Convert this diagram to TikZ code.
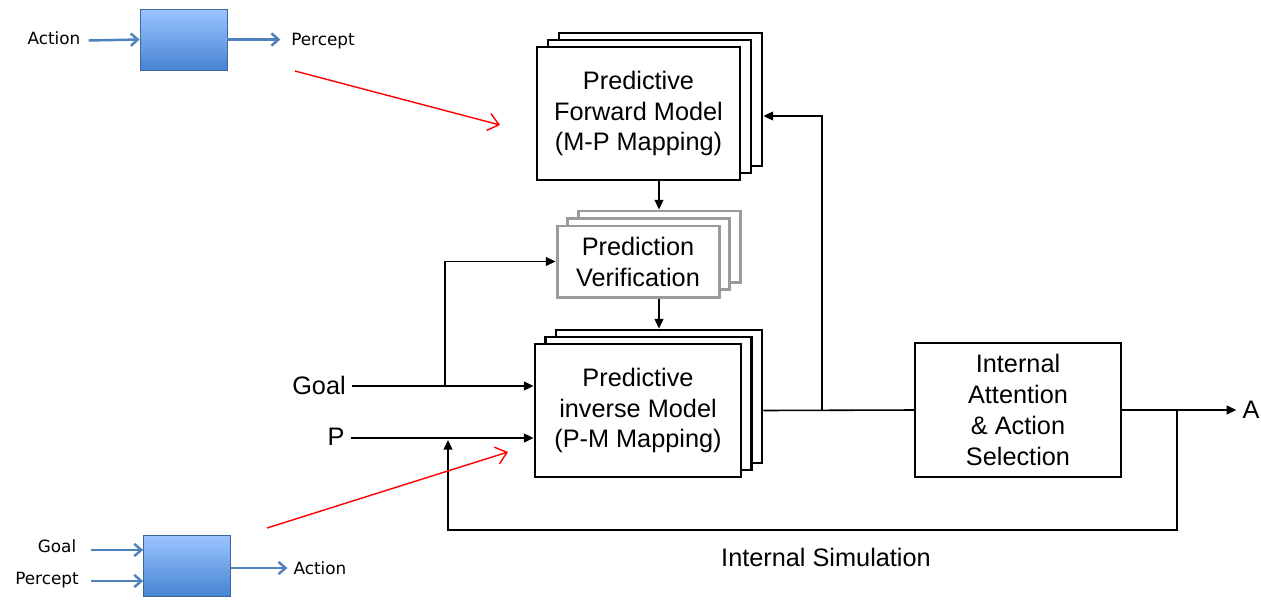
\documentclass[tikz,border=0pt]{standalone}
\usepackage{fontspec}
\setmainfont{Liberation Sans}
\newfontfamily\smallfont{DejaVu Sans}
\usetikzlibrary{arrows.meta,positioning,calc}
\definecolor{steel}{RGB}{79,129,189}
\definecolor{bluetop}{RGB}{155,196,255}
\definecolor{bluebot}{RGB}{70,132,210}
\definecolor{pvgray}{RGB}{155,155,155}
\tikzset{
  bigtxt/.style={font=\fontsize{14.4}{17.6}\selectfont, align=center},
  smalltxt/.style={font=\smallfont\fontsize{9.6}{11}\selectfont},
  stackbox/.style={draw=black, line width=1.6pt, fill=white, minimum width=#1},
  pvbox/.style={draw=pvgray, line width=1.7pt, fill=white, minimum width=162*0.02cm, minimum height=71*0.02cm},
  bluebox/.style={draw=steel!80!black, line width=0.4pt, top color=bluetop, bottom color=bluebot, minimum width=87*0.02cm, minimum height=61*0.02cm},
  bluearrow/.style={draw=steel, line width=1.4pt, -{Straight Barb[length=4pt,width=7pt]}},
  redarrow/.style={draw=red, line width=0.8pt, -{Straight Barb[length=6pt,width=10pt]}},
  arr/.style={draw=black, line width=0.9pt, -{Triangle[length=5.5pt,width=5pt]}},
  conn/.style={draw=black, line width=0.9pt},
}
\begin{document}
\begin{tikzpicture}[x=0.02cm,y=-0.02cm]
\useasboundingbox (0,0) rectangle (1261,599);

% ---- small top diagram
\node[bluebox] (b1) at (183.5,39.5) {};
\node[smalltxt] (a1) at (54,38) {Action};
\node[smalltxt] (p1) at (323,41) {Percept};
\draw[bluearrow] (a1.east |- b1.west) ++(2,1) -- (b1.west);
\draw[bluearrow] (b1.east) -- ++(53,0);

% ---- small bottom diagram
\node[bluebox] (b2) at (187,566) {};
\node[smalltxt] (g2) at (57,546) {Goal};
\node[smalltxt] (p2) at (47,580) {Percept};
\node[smalltxt] (a2) at (320,568) {Action};
\coordinate (g2s) at (91,550);
\coordinate (p2s) at (91,581);
\draw[bluearrow] (g2s) -- (b2.west |- g2s);
\draw[bluearrow] (p2s) -- (b2.west |- p2s);
\draw[bluearrow] (b2.east |- a2.west) -- (a2.west);

% ---- forward model stack
\node[stackbox=203*0.02cm, minimum height=133*0.02cm] (fm3) at (660.5,99.5) {};
\node[stackbox=203*0.02cm, minimum height=133*0.02cm] (fm2) at (649.5,106.5) {};
\node[stackbox=203*0.02cm, minimum height=133*0.02cm, bigtxt] (fm) at (638.5,113.5) {Predictive\\Forward Model\\(M-P Mapping)};

% ---- prediction verification stack
\node[pvbox] (pv3) at (659,246.5) {};
\node[pvbox] (pv2) at (648.5,254) {};
\node[pvbox, bigtxt] (pv) at (638,261.5) {Prediction\\Verification};

% ---- inverse model stack
\node[stackbox=206*0.02cm, minimum height=133*0.02cm] (im3) at (659,396.5) {};
\node[stackbox=206*0.02cm, minimum height=133*0.02cm] (im2) at (648.5,403.5) {};
\node[stackbox=206*0.02cm, minimum height=133*0.02cm, bigtxt] (im) at (638,410.5) {Predictive\\inverse Model\\(P-M Mapping)};

% ---- internal attention
\node[stackbox=206*0.02cm, minimum height=134*0.02cm, bigtxt, line width=1.4pt] (ia) at (1018,410) {Internal\\Attention\\\&~Action\\Selection};

% ---- labels
\node[bigtxt] (goal) at (319,385) {Goal};
\node[bigtxt] (p) at (336,437) {P};
\node[bigtxt] (A) at (1251,410) {A};
\node[bigtxt] (sim) at (826,557) {Internal Simulation};

% ---- coordinates
\coordinate (gsplit) at (445,386);
\coordinate (osplit) at (822,410);
\coordinate (fsplit) at (1177,410);
\coordinate (fbot) at (1177,530);
\coordinate (ptip) at (448,440);

% ---- connectors
\draw[arr] (pv3.north |- fm.south) -- (pv3.north);
\draw[arr] (im3.north |- pv.south) -- (im3.north);
\draw[arr] (goal.east |- gsplit) -- (im.west |- gsplit);
\draw[arr] (gsplit) |- (pv.west);
\draw[arr] (p.east |- ptip) ++(0,-2) -- (im.west |- 0,438);
\draw[conn] (im.east -| im3.east) -- (ia.west);
\draw[arr] (osplit) |- ($(fm.east -| fm3.east)+(0,2.5)$);
\draw[arr] (ia.east) -- (A.west);
\draw[arr] (fsplit) -- (fbot) -| (ptip);

% ---- red arrows
\coordinate (r1s) at (295,71);
\coordinate (r1e) at (500,125);
\coordinate (r2s) at (267,528);
\coordinate (r2e) at (508,452);
\draw[redarrow] (r1s) -- (r1e);
\draw[redarrow] (r2s) -- (r2e);
\end{tikzpicture}
\end{document}
